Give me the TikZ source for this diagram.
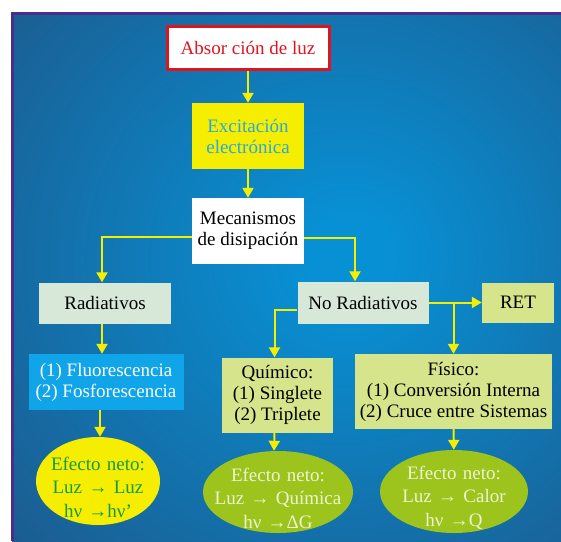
\documentclass[tikz,border=0pt]{standalone}
\usepackage{fontspec}
\setmainfont{Liberation Serif}
\usetikzlibrary{arrows.meta,shapes.geometric,positioning}

\definecolor{fondoA}{HTML}{0890D4}
\definecolor{fondoB}{HTML}{1E5586}
\definecolor{borde}{HTML}{4B2D8C}
\definecolor{rojo}{HTML}{E0141E}
\definecolor{amarillo}{HTML}{F5EE00}
\definecolor{cian}{HTML}{2AA8E0}
\definecolor{verdeG}{HTML}{D7E8D9}
\definecolor{verdeL}{HTML}{D6E48C}
\definecolor{azulF}{HTML}{10A4E8}
\definecolor{verdeT}{HTML}{16994A}
\definecolor{oliva}{HTML}{9CC41C}
\definecolor{crema}{HTML}{EEF4D2}

\pgfdeclareradialshading{fondo}{\pgfpoint{6bp}{2bp}}{%
  color(0bp)=(fondoA); color(4bp)=(fondoA); color(44bp)=(fondoB); color(100bp)=(fondoB)}

\tikzset{%
        >={Triangle[length=10pt,width=11pt]},
        x=1pt,
        y=-1pt
}
\tikzstyle{caja}=[
    rectangle,
    inner sep = 0pt,
    align = center,
    font = \fontsize{19}{21}\selectfont
]
\tikzstyle{globo}=[
    ellipse,
    inner xsep = -25pt,
    inner ysep = -14pt,
    text width = 130pt,
    align = center,
    font = \fontsize{19}{23.5}\selectfont
]
\tikzstyle{flecha}=[
    ->,
    draw = amarillo,
    line width = 2pt
]
\tikzstyle{every edge}=[flecha]

\begin{document}
\begin{tikzpicture}
        % fondo
        \fill[white] (0,0) rectangle (561,541);
        \useasboundingbox (0,0) rectangle (561,541);
        \shade[shading=fondo] (12,12) rectangle (561,541);
        \draw[borde, line width=3pt] (12.8,541) |- (561,13.6);

        \node[caja, draw=rojo, line width=3pt, fill=white, text=rojo,
              minimum width=162pt, minimum height=43pt] (abs) at (248,48) {Absor ción de luz};
        \node[caja, fill=amarillo, text=cian, minimum width=112pt, minimum height=66pt]
              (exc) at (248,136) {Excitación\\electrónica};
        \node[caja, fill=white, minimum width=112pt, minimum height=66pt]
              (mec) at (248,231) {Mecanismos\\de disipación};
        \node[caja, fill=verdeG, minimum width=132pt, minimum height=41pt]
              (rad) at (105,303) {Radiativos};
        \node[caja, fill=verdeG, minimum width=131pt, minimum height=42pt]
              (norad) at (363,302.5) {No Radiativos};
        \node[caja, fill=verdeL, minimum width=72pt, minimum height=40pt]
              (ret) at (518,302.5) {RET};
        \node[caja, fill=azulF, text=white, minimum width=155pt, minimum height=56pt]
              (fluo) at (106,382) {(1) Fluorescencia\\(2) Fosforescencia};
        \node[caja, fill=verdeL, minimum width=111pt, minimum height=75pt]
              (quim) at (277.5,395) {Químico:\\(1) Singlete\\(2) Triplete};
        \node[caja, fill=verdeL, minimum width=197pt, minimum height=75pt]
              (fis) at (453.5,391.5) {Físico:\\(1) Conversión Interna\\(2) Cruce entre Sistemas};

        \node[globo, fill=amarillo, text=verdeT, minimum width=124pt, minimum height=88pt]
              (efrad) at (98,481) {\rule{0pt}{26pt}Efecto neto:\\Luz → Luz\\hν →hν’};
        \node[globo, fill=oliva, text=crema, minimum width=150pt, minimum height=82pt]
              (efquim) at (278,492) {\rule{0pt}{26pt}Efecto neto:\\Luz → Química\\hν →ΔG};
        \node[globo, fill=oliva, text=crema, minimum width=148pt, minimum height=83pt]
              (effis) at (454,491.5) {\rule{0pt}{26pt}Efecto neto:\\Luz → Calor\\hν →Q};

        \path
        (abs) edge (exc)
        (exc) edge (mec)
        ([xshift=-3pt]rad.south) edge ([xshift=-4pt]fluo.north)
        ([xshift=-6pt]fluo.south) edge ([xshift=2pt]efrad.north)
        (norad) edge (ret)
        ([xshift=-3pt]quim.south) edge ([xshift=-4pt]efquim.north)
        (fis) edge (effis)
        ;

        \draw[flecha] ([yshift=-6pt]mec.west) -| ([xshift=-3pt]rad.north);
        \draw[flecha] ([yshift=-7pt]mec.east) -| ([xshift=-8pt]norad.north);
        \draw[flecha] ([yshift=-7pt]norad.west) -| ([xshift=-3pt]quim.north);
        \coordinate (nudo) at (fis.north |- norad.east);
        \draw[flecha] (nudo) -- (fis.north);
\end{tikzpicture}
\end{document}
